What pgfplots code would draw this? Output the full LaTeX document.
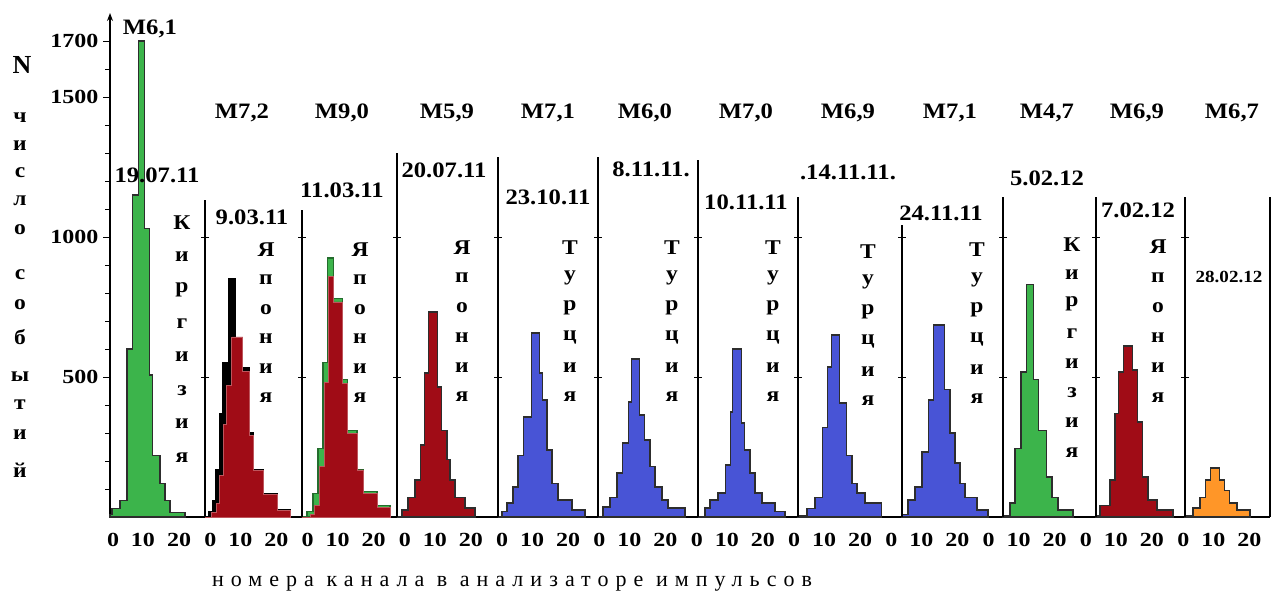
\documentclass[border=0pt]{standalone}
\usepackage{fontspec}
\setmainfont{Liberation Serif}
\newfontfamily\wideserif[FakeStretch=1.12]{Liberation Serif}
\newfontfamily\tickserif[FakeStretch=1.2]{Liberation Serif}
\newfontfamily\spacedserif[LetterSpace=32]{Liberation Serif}
\usepackage{pgfplots}
\pgfplotsset{compat=1.18}
\usepackage{pgfplotstable}
\usetikzlibrary{arrows.meta}

\definecolor{hgreen}{RGB}{60,180,75}
\definecolor{hblue}{RGB}{72,84,214}
\definecolor{hred}{RGB}{160,12,22}
\definecolor{horange}{RGB}{255,150,40}
\definecolor{hline}{RGB}{45,45,45}

% channel  count  (step histograms, value holds until next channel)
\pgfplotstableread{
x y
0 10
0.6 30
3 60
5.1 600
6.6 1150
8.4 1700
10.4 1030
11.9 507
12.8 220
14.9 120
16.4 60
17.9 15
22.4 0
}\pA
\pgfplotstableread{
x y
0 0
1 20
2.4 60
3.3 170
4.5 370
5.4 550
6.9 850
9.0 630
11.3 535
13.4 300
14.3 170
17.3 85
21.5 25
25.4 0
}\pBk
\pgfplotstableread{
x y
0 0
2 15
3.4 50
4.3 150
5.5 330
6.5 470
8 643
11.3 520
13.4 290
14.3 165
17.3 80
21.5 22
25.4 0
}\pBr
\pgfplotstableread{
x y
0 0
1.5 20
3.3 85
4.8 246
6.3 553
7.5 925
9.3 780
12.2 490
13.7 310
16.4 170
18.2 90
22.4 40
26.3 0
}\pCg
\pgfplotstableread{
x y
0 0
2.5 10
3.8 40
5.2 180
6.6 480
7.8 860
9.3 768
12.2 478
13.7 300
16.4 168
18.2 85
22.4 35
26.3 0
}\pCr
\pgfplotstableread{
x y
0 0
1.5 25
3.3 71
5.4 132
6.9 257
8.1 514
9.3 732
12.2 464
13.4 310
14.9 204
15.8 132
17.3 71
20.3 32
23.3 0
}\pD
\pgfplotstableread{
x y
0 0
1.2 20
2.7 50
4.5 107
6.0 221
7.5 357
10.1 657
12.5 514
13.4 418
14.6 239
16.1 121
17.9 61
22.1 25
26 0
}\pE
\pgfplotstableread{
x y
0 0
1.5 36
3.6 71
5.7 157
7.2 264
9.0 411
10.1 564
12.5 364
14.0 275
15.5 179
17.0 107
19.1 61
20.9 32
26 0
}\pF
\pgfplotstableread{
x y
0 0
2.1 32
3.6 61
6.0 86
8.1 186
9.6 375
10.4 600
13.1 336
14.0 239
15.5 157
17.0 86
19.1 50
23 20
26 0
}\pG
\pgfplotstableread{
x y
0 5
2.7 30
5.1 71
7.2 321
8.7 536
10.1 650
12.5 407
14.6 221
16.1 121
17.6 86
20 50
25 0
}\pH
\pgfplotstableread{
x y
0 10
1.8 61
3.9 107
6.0 232
7.8 418
9.3 686
12.8 454
14.3 300
15.8 193
17.3 121
18.8 71
22.4 25
25.7 0
}\pI
\pgfplotstableread{
x y
0 5
2.1 50
3.6 246
5.4 518
6.9 829
9.0 490
10.7 310
13.1 143
14.6 71
16.4 25
20.9 0
}\pJ
\pgfplotstableread{
x y
0 5
1.2 40
4.2 132
5.7 371
6.6 518
8.1 611
11.0 525
12.5 339
14.0 143
15.5 61
18.2 25
23 0
}\pK
\pgfplotstableread{
x y
0 5
2.4 32
4.5 71
6.0 132
7.5 175
10.4 132
11.9 96
13.4 50
15.5 25
19.4 0
}\pL

\newcommand\lab[4][22]{\node[font=\wideserif\bfseries\fontsize{#1}{#1}\selectfont,inner sep=0pt] at (#2pt,-#3pt) {#4};}
\newcommand\vword[4]{\foreach \l [count=\i from 0] in {#4} {\node[font=\wideserif\bfseries\fontsize{21}{21}\selectfont,inner sep=0pt] at ({#1pt},{-(#2+\i*#3)*1pt}) {\l};}}

\begin{document}
\begin{tikzpicture}
\begin{axis}[
  at={(110pt,-517pt)}, anchor=south west,
  scale only axis, width=1160pt, height=504pt,
  xmin=0, xmax=346.27, ymin=0, ymax=1800,
  axis x line=bottom, axis y line=left,
  x axis line style={-, line width=1.2pt},
  y axis line style={-{Stealth[length=8pt,width=6pt]}, line width=1.2pt},
  clip=false,
  xtick={0.90,9.85,20.60, 29.94,38.90,49.64, 58.99,67.94,78.69, 88.03,96.99,107.73, 117.07,126.03,136.78, 146.12,155.07,165.82, 175.16,184.12,194.87, 204.21,213.16,223.91, 233.25,242.21,252.96, 262.30,271.25,282.00, 291.34,300.30,311.04, 320.39,329.34,340.09},
  xticklabels={0,10,20,0,10,20,0,10,20,0,10,20,0,10,20,0,10,20,0,10,20,0,10,20,0,10,20,0,10,20,0,10,20,0,10,20},
  xtick style={draw=none},
  ytick={500,1000,1500,1700},
  yticklabels={500,1000,1500,1700},
  minor ytick={100,200,300,400,600,700,800,900,1100,1200,1300,1400,1600},
  tick align=outside,
  major tick length=7pt, minor tick length=5pt,
  ytick style={line width=1pt, black},
  minor tick style={line width=0.8pt, black},
  tick label style={font=\tickserif\bfseries\fontsize{20}{20}\selectfont},
  xticklabel style={yshift=-6pt},
  yticklabel style={xshift=-1pt},
]
% histograms
\addplot[const plot, fill=hgreen, draw=hline, line width=1.2pt] table[x=x,y=y] {\pA} \closedcycle;
\addplot[const plot, fill=black, draw=black, line width=1.2pt] table[x expr=\thisrow{x}+28.36,y=y] {\pBk} \closedcycle;
\addplot[const plot, fill=hred, draw=hred!70!white, line width=0.8pt] table[x expr=\thisrow{x}+28.36,y=y] {\pBr} \closedcycle;
\addplot[const plot, fill=hgreen, draw=hgreen!60!black, line width=1.2pt] table[x expr=\thisrow{x}+57.31,y=y] {\pCg} \closedcycle;
\addplot[const plot, fill=hred, draw=hred!70!white, line width=0.8pt] table[x expr=\thisrow{x}+57.31,y=y] {\pCr} \closedcycle;
\addplot[const plot, fill=hred, draw=hline, line width=1.2pt] table[x expr=\thisrow{x}+85.67,y=y] {\pD} \closedcycle;
\addplot[const plot, fill=hblue, draw=hline, line width=1.2pt] table[x expr=\thisrow{x}+115.82,y=y] {\pE} \closedcycle;
\addplot[const plot, fill=hblue, draw=hline, line width=1.2pt] table[x expr=\thisrow{x}+145.67,y=y] {\pF} \closedcycle;
\addplot[const plot, fill=hblue, draw=hline, line width=1.2pt] table[x expr=\thisrow{x}+175.52,y=y] {\pG} \closedcycle;
\addplot[const plot, fill=hblue, draw=hline, line width=1.2pt] table[x expr=\thisrow{x}+205.37,y=y] {\pH} \closedcycle;
\addplot[const plot, fill=hblue, draw=hline, line width=1.2pt] table[x expr=\thisrow{x}+236.42,y=y] {\pI} \closedcycle;
\addplot[const plot, fill=hgreen, draw=hline, line width=1.2pt] table[x expr=\thisrow{x}+266.57,y=y] {\pJ} \closedcycle;
\addplot[const plot, fill=hred, draw=hline, line width=1.2pt] table[x expr=\thisrow{x}+294.33,y=y] {\pK} \closedcycle;
\addplot[const plot, fill=horange, draw=hline, line width=1.2pt] table[x expr=\thisrow{x}+320.90,y=y] {\pL} \closedcycle;
% panel separators
\addplot[black, line width=1.2pt] coordinates {(28.36,0) (28.36,1132)};
\addplot[black, line width=1.2pt] coordinates {(57.31,0) (57.31,1096)};
\addplot[black, line width=1.2pt] coordinates {(85.67,0) (85.67,1300)};
\addplot[black, line width=1.2pt] coordinates {(115.82,0) (115.82,1286)};
\addplot[black, line width=1.2pt] coordinates {(145.67,0) (145.67,1286)};
\addplot[black, line width=1.2pt] coordinates {(175.52,0) (175.52,1275)};
\addplot[black, line width=1.2pt] coordinates {(205.37,0) (205.37,1143)};
\addplot[black, line width=1.2pt] coordinates {(236.42,0) (236.42,1043)};
\addplot[black, line width=1.2pt] coordinates {(266.57,0) (266.57,1143)};
\addplot[black, line width=1.2pt] coordinates {(294.33,0) (294.33,1143)};
\addplot[black, line width=1.2pt] coordinates {(320.90,0) (320.90,1143)};
\addplot[black, line width=1.6pt] coordinates {(346.27,0) (346.27,1143)};
\addplot[only marks, mark=-, mark size=4pt, mark options={line width=1pt}, black] coordinates {
 (28.36,500)(28.36,1000)(57.31,500)(57.31,1000)(85.67,500)(85.67,1000)
 (115.82,500)(115.82,1000)(145.67,500)(145.67,1000)(175.52,500)(175.52,1000)
 (205.37,500)(205.37,1000)(236.42,500)(236.42,1000)(266.57,500)(266.57,1000)
 (294.33,500)(294.33,1000)(320.90,500)(320.90,1000)};
\end{axis}

% axis title
\node[font=\bfseries\fontsize{26}{26}\selectfont,inner sep=0pt] at (22pt,-65pt) {N};
\foreach \l/\y in {ч/118,и/146,с/173,л/201,о/230,с/275,о/305,б/337,ы/377,т/405,и/435,й/470}
  {\node[font=\wideserif\bfseries\fontsize{21}{21}\selectfont,inner sep=0pt] at (20pt,-\y pt) {\l};}

% magnitudes
\lab{150}{29}{M6,1}
\lab{242}{113}{M7,2}
\lab{342}{113}{M9,0}
\lab{447}{113}{M5,9}
\lab{548}{113}{M7,1}
\lab{645}{113}{M6,0}
\lab{746}{113}{M7,0}
\lab{848}{113}{M6,9}
\lab{950}{113}{M7,1}
\lab{1047}{113}{M4,7}
\lab{1137}{113}{M6,9}
\lab{1232}{113}{M6,7}

% dates
\lab{157}{175}{19.07.11}
\lab{252}{217}{9.03.11}
\lab{342}{190}{11.03.11}
\lab{444}{170}{20.07.11}
\lab{548}{197}{23.10.11}
\lab{651}{169}{8.11.11.}
\lab{746}{202}{10.11.11}
\lab{848}{172}{.14.11.11.}
\lab{941}{213}{24.11.11}
\lab{1047}{178}{5.02.12}
\lab{1138}{210}{7.02.12}
\lab[17]{1229}{277}{28.02.12}

% countries
\vword{182}{223}{33.5}{К,и,р,г,и,з,и,я}
\vword{266}{250}{29.6}{Я,п,о,н,и,я}
\vword{360}{250}{29.6}{Я,п,о,н,и,я}
\vword{462}{248}{29.8}{Я,п,о,н,и,я}
\vword{570}{248}{29.8}{Т,у,р,ц,и,я}
\vword{672}{248}{29.8}{Т,у,р,ц,и,я}
\vword{773}{248}{29.8}{Т,у,р,ц,и,я}
\vword{868}{252}{29.8}{Т,у,р,ц,и,я}
\vword{977}{250}{29.8}{Т,у,р,ц,и,я}
\vword{1072}{245}{29.6}{К,и,р,г,и,з,и,я}
\vword{1158}{247}{30.2}{Я,п,о,н,и,я}

% x title
\node[font=\spacedserif\fontsize{22}{22}\selectfont,inner sep=0pt] at (512pt,-584pt) {номера канала в анализаторе импульсов};

\pgfresetboundingbox
\path[use as bounding box] (0,0) rectangle (1280pt,-598pt);
\end{tikzpicture}
\end{document}
